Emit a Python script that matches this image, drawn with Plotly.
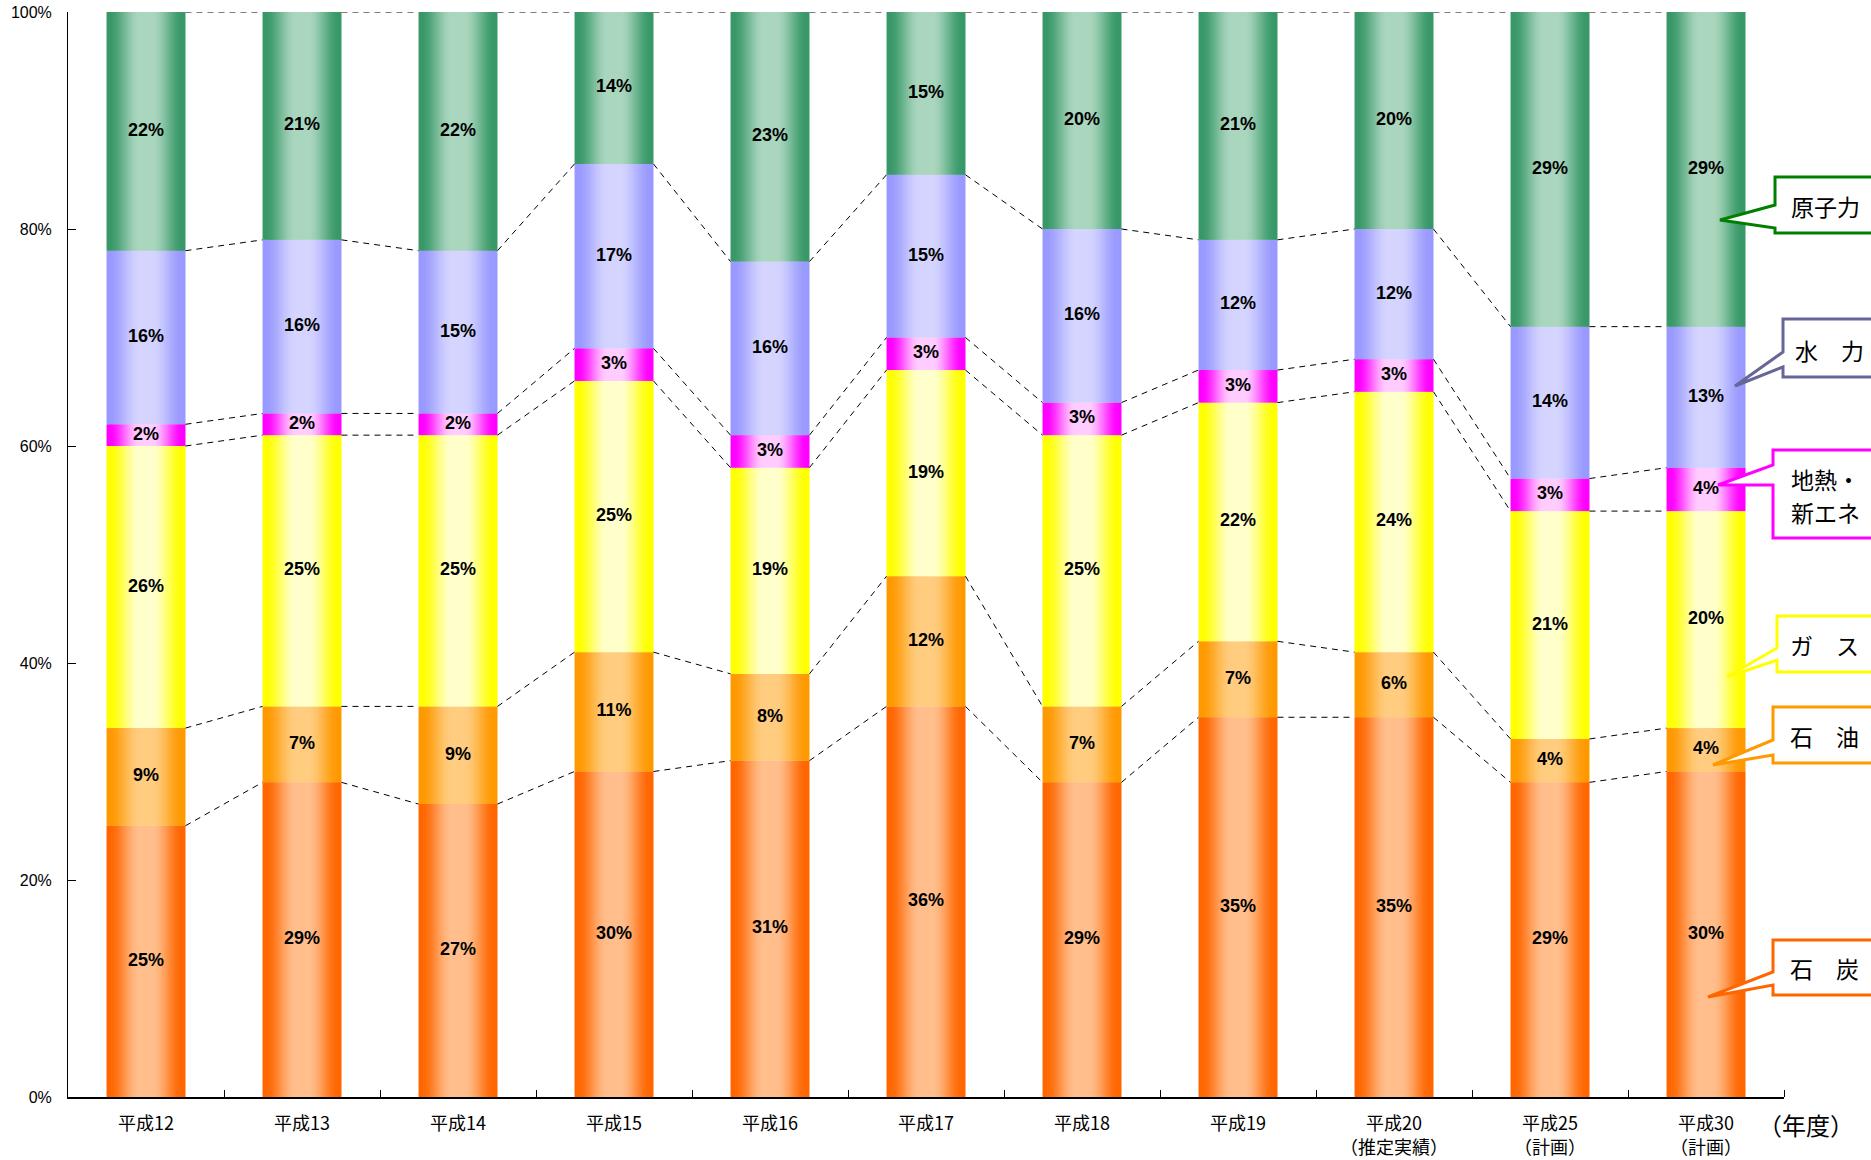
import plotly.graph_objects as go

# Fiscal years (category labels)
years = ["平成12", "平成13", "平成14", "平成15", "平成16", "平成17",
         "平成18", "平成19", "平成20<br>（推定実績）", "平成25<br>（計画）", "平成30<br>（計画）"]

# Generation mix shares (%) per energy source, stacked bottom to top
coal = [25, 29, 27, 30, 31, 36, 29, 35, 35, 29, 30]
oil = [9, 7, 9, 11, 8, 12, 7, 7, 6, 4, 4]
gas = [26, 25, 25, 25, 19, 19, 25, 22, 24, 21, 20]
geo_new = [2, 2, 2, 3, 3, 3, 3, 3, 3, 3, 4]
hydro = [16, 16, 15, 17, 16, 15, 16, 12, 12, 14, 13]
nuclear = [22, 21, 22, 14, 23, 15, 20, 21, 20, 29, 29]

y_ticks = [0, 20, 40, 60, 80, 100]
y_tick_text = ["0%", "20%", "40%", "60%", "80%", "100%"]

series = [coal, oil, gas, geo_new, hydro, nuclear]
# (edge colour, centre highlight colour) for the cylinder-like shading
palette = [
    ("#FF6600", "#FFBE8C"),
    ("#FF9900", "#FFCC80"),
    ("#FFFF00", "#FFFFCC"),
    ("#FF00FF", "#FFCCFF"),
    ("#9999FF", "#D4D4FF"),
    ("#389868", "#AAD6BE"),
]

W = 0.506          # bar width in category units
N_STRIPS = 40      # vertical strips used to build the horizontal shading
FONT_JP = "Noto Sans CJK JP"


def hex_rgb(h):
    h = h.lstrip("#")
    return tuple(int(h[i:i + 2], 16) for i in (0, 2, 4))


def mix(c1, c2, f):
    a, b = hex_rgb(c1), hex_rgb(c2)
    return "rgb(%d,%d,%d)" % tuple(round(a[i] + (b[i] - a[i]) * f) for i in range(3))


def smooth(e0, e1, t):
    u = min(max((t - e0) / (e1 - e0), 0.0), 1.0)
    return u * u * (3 - 2 * u)


def shade(t):
    # dark at both edges, light band slightly left of centre
    if t < 0.5:
        return smooth(0.03, 0.42, t)
    return 1.0 - smooth(0.58, 0.97, t)


n_cat = len(years)
xs, ys, bases, keys = [], [], [], []
tops = []  # cumulative top of each segment per category
for i in range(n_cat):
    b = 0
    col = []
    for s, vals in enumerate(series):
        xs.append(i)
        ys.append(vals[i])
        bases.append(b)
        keys.append(s)
        b += vals[i]
        col.append(b)
    tops.append(col)

fig = go.Figure()

d = W / N_STRIPS
for k in range(N_STRIPS):
    t = (k + 0.5) / N_STRIPS
    f = shade(t)
    colors = [mix(palette[s][0], palette[s][1], f) for s in keys]
    w = d * 1.8 if k < N_STRIPS - 1 else d
    fig.add_trace(go.Bar(
        x=xs, y=ys, base=bases, width=w, offset=-W / 2 + k * d,
        marker=dict(color=colors, line=dict(width=0)),
        hoverinfo="skip", showlegend=False,
    ))

# Dashed connectors between segment boundaries of neighbouring bars
lx, ly = [], []
for i in range(n_cat - 1):
    for s in range(len(series)):
        lx += [i + W / 2, i + 1 - W / 2, None]
        ly += [tops[i][s], tops[i + 1][s], None]
fig.add_trace(go.Scatter(
    x=lx, y=ly, mode="lines",
    line=dict(color="black", width=1, dash="6px,5px"),
    hoverinfo="skip", showlegend=False,
))

# Percentage labels centred in each segment
fig.add_trace(go.Scatter(
    x=xs, y=[b + v / 2 for b, v in zip(bases, ys)],
    text=["%d%%" % v for v in ys], mode="text",
    textfont=dict(family="Liberation Sans", size=18, color="black", weight="bold"),
    hoverinfo="skip", showlegend=False,
))

# Plot-area geometry in pixels, used to place the callouts
L_PX, R_PX, T_PX, B_PX = 68, 1784, 12, 1097


def px(xp):
    return (xp - L_PX) / (R_PX - L_PX)


def py(yp):
    return (B_PX - yp) / (B_PX - T_PX)


# Callout boxes: left, top, bottom, wedge top, wedge bottom, tip x, tip y, colour,
# then the text lines with their centres
callouts = [
    (1775, 177, 233, 205, 228, 1720, 220, "#008000", [("原子力", 1826, 206)]),
    (1783, 319, 377, 352, 367, 1735, 386, "#666699", [("水　力", 1830, 350)]),
    (1773, 450, 538, 465, 485, 1718, 485, "#FF00FF",
     [("地熱・", 1825, 479), ("新エネ", 1825, 512)]),
    (1777, 616, 672, 648, 660, 1727, 677, "#FFFF00", [("ガ　ス", 1824, 645)]),
    (1773, 707, 763, 740, 755, 1713, 765, "#FF9900", [("石　油", 1824, 736)]),
    (1773, 940, 995, 972, 985, 1708, 997, "#FF6600", [("石　炭", 1824, 968)]),
]
R_BOX = 1905
for (lft, top, bot, wt, wb, tx, ty, colr, lines) in callouts:
    pts = [(lft, top), (R_BOX, top), (R_BOX, bot), (lft, bot), (lft, wb), (tx, ty), (lft, wt)]
    path = "M " + " L ".join("%.5f,%.5f" % (px(a), py(b)) for a, b in pts) + " Z"
    fig.add_shape(type="path", path=path, xref="paper", yref="paper",
                  line=dict(color=colr, width=3), fillcolor="white", layer="above")
    for label, cx, cy in lines:
        fig.add_annotation(x=px(cx), y=py(cy), xref="paper", yref="paper", text=label,
                           showarrow=False, xanchor="center", yanchor="middle",
                           font=dict(family=FONT_JP, size=23, color="black"))

# Unit label at the end of the category axis
fig.add_annotation(x=px(1806), y=py(1124), xref="paper", yref="paper", text="（年度）",
                   showarrow=False, xanchor="center", yanchor="middle",
                   font=dict(family=FONT_JP, size=24, color="black"))

fig.update_layout(
    width=1871, height=1160,
    margin=dict(l=L_PX, r=1871 - R_PX, t=T_PX, b=1160 - B_PX, autoexpand=False),
    barmode="overlay",
    plot_bgcolor="white", paper_bgcolor="white",
    font=dict(family=FONT_JP, color="black"),
    xaxis=dict(
        range=[-0.5, n_cat - 0.5], tickmode="array",
        tickvals=list(range(n_cat)), ticktext=years, automargin=False,
        ticks="", showline=True, linecolor="black", linewidth=1.5,
        showgrid=False, zeroline=False, ticklabelstandoff=10,
        tickfont=dict(family=FONT_JP, size=18, color="black"),
        minor=dict(tickmode="array", tickvals=[i + 0.5 for i in range(n_cat)],
                   ticks="inside", ticklen=7, tickcolor="black", tickwidth=1, showgrid=False),
    ),
    yaxis=dict(
        range=[0, 100], tickmode="array", tickvals=y_ticks, ticktext=y_tick_text,
        ticks="inside", ticklen=8, tickcolor="black", tickwidth=1, automargin=False,
        showline=True, linecolor="black", linewidth=1,
        showgrid=False, zeroline=False, ticklabelstandoff=12,
        tickfont=dict(family="Liberation Sans", size=16, color="black"),
    ),
)

fig.write_html("out.html")
